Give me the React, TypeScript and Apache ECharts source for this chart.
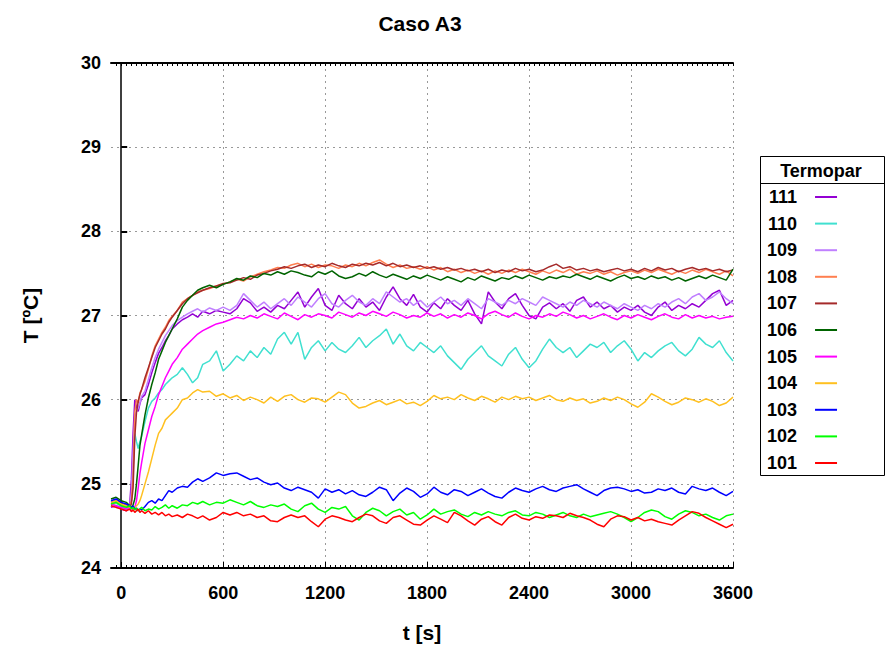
import React, { useEffect, useRef } from "react";
import * as echarts from "echarts";

const times = [
  -60, -30, 0, 30, 50, 60, 70, 80, 90, 100,
  110, 120, 140, 160, 180, 200, 220, 240, 260, 280,
  300, 330, 360, 390, 420, 450, 480, 520, 560, 600,
  640, 680, 720, 760, 800, 840, 880, 920, 960, 1000,
  1040, 1080, 1120, 1160, 1200, 1240, 1280, 1320, 1360, 1400,
  1440, 1480, 1520, 1560, 1600, 1640, 1680, 1720, 1760, 1800,
  1840, 1880, 1920, 1960, 2000, 2040, 2080, 2120, 2160, 2200,
  2240, 2280, 2320, 2360, 2400, 2440, 2480, 2520, 2560, 2600,
  2640, 2680, 2720, 2760, 2800, 2840, 2880, 2920, 2960, 3000,
  3040, 3080, 3120, 3160, 3200, 3240, 3280, 3320, 3360, 3400,
  3440, 3480, 3520, 3560, 3600,
];

const t111 = [
  24.72, 24.74, 24.70, 24.68, 24.75, 25.05, 25.60, 26.00, 25.92, 25.86,
  25.95, 26.02, 26.06, 26.18, 26.32, 26.44, 26.55, 26.62, 26.70, 26.76,
  26.84, 26.90, 26.95, 26.98, 27.02, 26.98, 27.05, 27.02, 27.06, 27.04,
  27.02, 27.08, 27.20, 27.15, 27.05, 27.10, 27.04, 27.12, 27.08, 27.18,
  27.28, 27.10, 27.22, 27.32, 27.12, 27.06, 27.24, 27.14, 27.08, 27.20,
  27.10, 27.16, 27.06, 27.22, 27.34, 27.20, 27.12, 27.25, 27.10, 27.04,
  27.15, 27.08, 27.20, 27.12, 27.06, 27.18, 27.02, 26.90, 27.28, 27.16,
  27.08, 27.20, 27.26, 27.12, 27.00, 26.96, 27.10, 27.15, 27.08, 27.14,
  27.05, 27.18, 27.22, 27.10, 27.16, 27.08, 27.12, 27.04, 27.10, 27.06,
  27.12, 27.04, 27.00, 27.10, 27.16, 27.06, 27.12, 27.08, 27.14, 27.10,
  27.18, 27.26, 27.30, 27.12, 27.18,
];

const t110 = [
  24.75, 24.77, 24.73, 24.71, 24.70, 24.80, 25.20, 25.60, 25.50, 25.42,
  25.50, 25.56, 25.74, 25.90, 25.98, 26.02, 26.08, 26.12, 26.18, 26.22,
  26.26, 26.30, 26.38, 26.30, 26.20, 26.26, 26.42, 26.46, 26.58, 26.34,
  26.42, 26.52, 26.46, 26.58, 26.50, 26.62, 26.54, 26.72, 26.80, 26.66,
  26.80, 26.48, 26.62, 26.70, 26.58, 26.68, 26.60, 26.56, 26.64, 26.74,
  26.62, 26.70, 26.76, 26.84, 26.66, 26.78, 26.64, 26.58, 26.68, 26.62,
  26.56, 26.64, 26.52, 26.44, 26.36, 26.48, 26.56, 26.64, 26.52, 26.46,
  26.40, 26.54, 26.62, 26.48, 26.38, 26.46, 26.60, 26.72, 26.62, 26.56,
  26.62, 26.50, 26.58, 26.66, 26.62, 26.68, 26.56, 26.64, 26.70, 26.60,
  26.46, 26.56, 26.50, 26.58, 26.64, 26.68, 26.58, 26.52, 26.60, 26.74,
  26.66, 26.62, 26.70, 26.56, 26.46,
];

const t109 = [
  24.74, 24.72, 24.71, 24.69, 24.72, 24.90, 25.40, 25.80, 25.86, 25.90,
  25.96, 26.04, 26.10, 26.24, 26.38, 26.50, 26.60, 26.68, 26.76, 26.82,
  26.88, 26.94, 26.98, 27.02, 27.05, 27.08, 27.04, 27.09, 27.06, 27.10,
  27.06, 27.12, 27.26, 27.18, 27.10, 27.16, 27.08, 27.14, 27.20, 27.12,
  27.22, 27.16, 27.10, 27.20, 27.26, 27.14, 27.10, 27.18, 27.24, 27.16,
  27.12, 27.20, 27.14, 27.28, 27.22, 27.16, 27.20, 27.12, 27.18, 27.10,
  27.16, 27.22, 27.14, 27.18, 27.12, 27.20, 27.14, 27.08, 27.20, 27.16,
  27.12, 27.18, 27.14, 27.20, 27.16, 27.12, 27.22, 27.18, 27.14, 27.10,
  27.16, 27.12, 27.18, 27.14, 27.10, 27.16, 27.12, 27.08, 27.14, 27.10,
  27.06, 27.12, 27.08, 27.14, 27.10, 27.16, 27.20, 27.14, 27.22, 27.26,
  27.18, 27.22, 27.28, 27.20, 27.14,
];

const t108 = [
  24.76, 24.78, 24.75, 24.73, 24.74, 24.80, 25.10, 25.85, 26.00, 25.96,
  26.08, 26.12, 26.22, 26.36, 26.52, 26.64, 26.72, 26.80, 26.86, 26.94,
  26.99, 27.06, 27.16, 27.20, 27.24, 27.28, 27.30, 27.32, 27.35, 27.37,
  27.40, 27.43, 27.41, 27.46, 27.49, 27.52, 27.54, 27.57, 27.56, 27.60,
  27.62, 27.58, 27.61, 27.57, 27.60, 27.59, 27.56, 27.60, 27.58, 27.62,
  27.59, 27.63, 27.66, 27.61, 27.57, 27.60, 27.56, 27.58, 27.55, 27.58,
  27.54, 27.57, 27.52, 27.55, 27.51, 27.54, 27.50, 27.53, 27.49, 27.53,
  27.50, 27.54, 27.51, 27.55, 27.52, 27.49, 27.53, 27.50, 27.54, 27.51,
  27.55, 27.49, 27.52, 27.50, 27.53, 27.49, 27.52, 27.48, 27.51, 27.53,
  27.50, 27.54, 27.51, 27.55, 27.52, 27.49, 27.53, 27.50, 27.54, 27.51,
  27.55, 27.52, 27.49, 27.53, 27.47,
];

const t107 = [
  24.78, 24.80, 24.77, 24.74, 24.72, 24.76, 24.95, 25.55, 25.85, 25.98,
  26.06, 26.12, 26.26, 26.38, 26.50, 26.62, 26.70, 26.78, 26.84, 26.92,
  26.98, 27.06, 27.14, 27.20, 27.24, 27.27, 27.30, 27.33, 27.35, 27.38,
  27.39, 27.42, 27.45, 27.43, 27.48, 27.50, 27.53, 27.55, 27.58, 27.56,
  27.59, 27.61, 27.57, 27.60, 27.58, 27.62, 27.59, 27.57, 27.61, 27.59,
  27.62, 27.60, 27.63, 27.59, 27.62, 27.58, 27.60, 27.57, 27.59, 27.56,
  27.58, 27.55, 27.57, 27.54, 27.56, 27.53, 27.55, 27.52, 27.55, 27.51,
  27.54, 27.52, 27.56, 27.53, 27.55, 27.52, 27.54, 27.58, 27.61, 27.56,
  27.58, 27.54, 27.56, 27.53, 27.55, 27.52, 27.54, 27.56, 27.53, 27.55,
  27.52, 27.56, 27.53, 27.57, 27.54, 27.56, 27.52, 27.55, 27.57, 27.54,
  27.56, 27.53, 27.55, 27.52, 27.54,
];

const t106 = [
  24.82, 24.84, 24.80, 24.78, 24.74, 24.72, 24.75, 24.82, 25.00, 25.22,
  25.45, 25.58, 25.82, 26.02, 26.18, 26.32, 26.48, 26.58, 26.68, 26.76,
  26.84, 26.96, 27.10, 27.18, 27.24, 27.30, 27.33, 27.36, 27.33, 27.37,
  27.40, 27.44, 27.42, 27.47, 27.45, 27.50, 27.48, 27.52, 27.49, 27.53,
  27.51, 27.48, 27.46, 27.52, 27.49, 27.53, 27.47, 27.44, 27.46, 27.50,
  27.47, 27.52, 27.48, 27.45, 27.49, 27.46, 27.43, 27.47, 27.44, 27.48,
  27.45, 27.42, 27.46, 27.43, 27.40, 27.45, 27.42, 27.47, 27.44, 27.41,
  27.45, 27.43, 27.47, 27.44, 27.48, 27.45, 27.42, 27.46, 27.44, 27.47,
  27.45, 27.49, 27.46, 27.43, 27.47, 27.44, 27.41, 27.45, 27.48, 27.44,
  27.46, 27.43, 27.47, 27.44, 27.46, 27.42, 27.45, 27.41, 27.44, 27.47,
  27.44, 27.48, 27.45, 27.42, 27.55,
];

const t105 = [
  24.76, 24.74, 24.72, 24.70, 24.70, 24.68, 24.70, 24.72, 24.80, 24.95,
  25.12, 25.25, 25.48, 25.64, 25.80, 25.92, 26.06, 26.16, 26.26, 26.34,
  26.42, 26.50, 26.60, 26.66, 26.72, 26.78, 26.82, 26.86, 26.90, 26.92,
  26.95, 26.98, 26.96, 27.00, 26.97, 27.02, 26.99, 26.96, 27.03, 26.99,
  26.95, 27.01, 26.98, 27.02, 27.00, 26.97, 27.04, 27.01, 26.98, 27.03,
  27.00, 27.05, 27.02, 26.99, 27.04, 27.01, 26.97, 27.00, 26.98, 27.03,
  26.99, 27.02, 26.97, 27.01, 26.98, 27.03, 27.00, 26.96, 27.02, 27.05,
  27.01, 26.98, 27.03, 26.99, 26.96, 27.00, 26.98, 27.02, 26.99, 27.04,
  27.01, 26.97, 27.00, 26.96, 26.99, 27.02, 26.98, 26.95, 27.00, 26.97,
  27.01, 26.98, 26.95, 26.99, 27.02, 26.98, 26.96, 27.01, 26.97, 27.00,
  26.97, 26.99, 26.96, 26.98, 26.99,
];

const t104 = [
  24.78, 24.80, 24.76, 24.74, 24.72, 24.74, 24.70, 24.72, 24.74, 24.76,
  24.80, 24.86, 25.00, 25.14, 25.30, 25.46, 25.60, 25.66, 25.76, 25.80,
  25.84, 25.90, 26.00, 26.02, 26.08, 26.12, 26.09, 26.10, 26.04, 26.07,
  26.02, 26.05, 25.99, 26.03, 26.00, 25.96, 26.03, 25.98, 26.04, 26.06,
  26.00, 25.97, 26.02, 26.01, 25.97, 26.03, 26.09, 26.06, 25.96, 25.90,
  25.92, 25.96, 25.99, 25.94, 25.97, 26.00, 25.95, 25.97, 25.93, 25.98,
  26.05, 26.01, 26.03, 26.00, 26.06, 26.02, 25.99, 26.04, 26.01, 25.97,
  26.03, 26.00, 26.04, 26.01, 26.03, 25.99, 26.02, 26.05, 26.00, 25.98,
  26.02, 25.99, 26.01, 25.96, 25.98, 26.02, 25.99, 26.03, 26.00, 25.95,
  25.91, 25.97, 26.07, 26.03, 25.98, 25.94, 25.97, 26.02, 26.00, 25.97,
  26.01, 25.98, 25.93, 25.96, 26.03,
];

const t103 = [
  24.80, 24.82, 24.78, 24.76, 24.74, 24.72, 24.74, 24.70, 24.71, 24.68,
  24.70, 24.69, 24.73, 24.78, 24.80, 24.77, 24.82, 24.80, 24.86, 24.92,
  24.90, 24.95, 24.97, 24.96, 25.02, 25.06, 25.03, 25.07, 25.13, 25.10,
  25.12, 25.13, 25.09, 25.05, 25.07, 25.02, 24.99, 25.01, 24.95, 24.92,
  24.96, 24.93, 24.90, 24.83, 24.94, 24.90, 24.93, 24.88, 24.92, 24.87,
  24.85, 24.90, 24.96, 24.93, 24.80, 24.89, 24.95, 24.91, 24.84, 24.88,
  24.96, 24.90, 24.87, 24.93, 24.91, 24.86, 24.90, 24.94, 24.89, 24.85,
  24.83, 24.90, 24.95, 24.92, 24.90, 24.94, 24.97, 24.93, 24.91, 24.95,
  24.97, 24.99, 24.94, 24.90, 24.86, 24.92, 24.95, 24.96, 24.94, 24.91,
  24.93, 24.89, 24.90, 24.94, 24.92, 24.95, 24.90, 24.88, 24.97, 24.94,
  24.92, 24.95, 24.90, 24.86, 24.91,
];

const t102 = [
  24.76, 24.78, 24.74, 24.72, 24.74, 24.70, 24.72, 24.69, 24.71, 24.68,
  24.70, 24.72, 24.68, 24.70, 24.69, 24.73, 24.70, 24.72, 24.75, 24.71,
  24.74, 24.71, 24.75, 24.74, 24.78, 24.76, 24.79, 24.75, 24.78, 24.77,
  24.81, 24.78, 24.75, 24.79, 24.74, 24.72, 24.75, 24.73, 24.76, 24.70,
  24.67, 24.74, 24.77, 24.70, 24.66, 24.72, 24.70, 24.73, 24.62, 24.57,
  24.66, 24.71, 24.68, 24.62, 24.67, 24.70, 24.63, 24.66, 24.58, 24.63,
  24.70, 24.64, 24.67, 24.69, 24.64, 24.61, 24.66, 24.63, 24.67, 24.64,
  24.62, 24.66, 24.68, 24.63, 24.62, 24.66, 24.64, 24.60, 24.63, 24.66,
  24.62, 24.60, 24.64, 24.61, 24.63, 24.65, 24.67, 24.64, 24.60, 24.55,
  24.60, 24.66, 24.69, 24.67, 24.61, 24.58, 24.64, 24.68, 24.66, 24.62,
  24.64, 24.60, 24.57, 24.62, 24.64,
];

const t101 = [
  24.74, 24.72, 24.70, 24.68, 24.70, 24.67, 24.69, 24.66, 24.68, 24.70,
  24.66, 24.68, 24.65, 24.68, 24.64, 24.66, 24.63, 24.66, 24.62, 24.64,
  24.61, 24.63, 24.60, 24.64, 24.62, 24.59, 24.62, 24.57, 24.60, 24.66,
  24.63, 24.66, 24.62, 24.64, 24.60, 24.62, 24.56, 24.55, 24.60, 24.63,
  24.60, 24.62, 24.55, 24.49, 24.58, 24.62, 24.60, 24.57, 24.55, 24.60,
  24.64, 24.62, 24.56, 24.53, 24.60, 24.62, 24.57, 24.52, 24.51, 24.57,
  24.62, 24.58, 24.54, 24.66, 24.62, 24.56, 24.51, 24.58, 24.61, 24.55,
  24.51, 24.60, 24.64, 24.59, 24.57, 24.61, 24.59, 24.63, 24.62, 24.60,
  24.65, 24.62, 24.60, 24.57, 24.52, 24.49, 24.58, 24.62, 24.61, 24.57,
  24.60, 24.56, 24.58, 24.55, 24.53, 24.51, 24.57, 24.62, 24.67, 24.65,
  24.60, 24.56, 24.52, 24.48, 24.52,
];

const seriesNames = ["111", "110", "109", "108", "107", "106", "105", "104", "103", "102", "101"];
const seriesColors = [
  "#9400d3", "#40e0d0", "#c080ff", "#ff7f50", "#a52a2a", "#006400",
  "#ff00ff", "#ffc020", "#0000ff", "#00ff00", "#ff0000",
];
const xMajorTicks = [0, 600, 1200, 1800, 2400, 3000, 3600];

const FONT = "'Liberation Sans', Arial, Helvetica, sans-serif";

export default function App() {
  const ref = useRef<HTMLDivElement>(null);

  useEffect(() => {
    if (!ref.current) return;
    const chart = echarts.init(ref.current, null, { renderer: "svg" });
    const values = [t111, t110, t109, t108, t107, t106, t105, t104, t103, t102, t101];
    const minorTicks: number[] = [];
    for (let v = -30; v <= 3600; v += 30) minorTicks.push(v);

    chart.setOption({
      animation: false,
      backgroundColor: "#ffffff",
      textStyle: { fontFamily: FONT },
      title: {
        text: "Caso A3",
        left: 415,
        top: 8,
        textAlign: "center",
        textStyle: { fontSize: 21, fontWeight: "bold", color: "#000", fontFamily: FONT },
      },
      grid: { left: 111, top: 63, width: 622, height: 505, containLabel: false },
      xAxis: [
        {
          type: "value",
          min: -60,
          max: 3600,
          position: "bottom",
          name: "t [s]",
          nameLocation: "middle",
          nameGap: 54,
          nameTextStyle: { fontSize: 21, fontWeight: "bold", color: "#000", fontFamily: FONT },
          axisLine: { show: true, lineStyle: { color: "#000", width: 2 } },
          axisTick: { show: true, inside: true, length: 6, customValues: xMajorTicks, lineStyle: { color: "#000", width: 1 } },
          axisLabel: {
            show: true,
            customValues: xMajorTicks,
            formatter: (v: number) => String(v),
            fontSize: 18,
            fontWeight: "bold",
            color: "#000",
            margin: 16,
            fontFamily: FONT,
          },
          splitLine: { show: true, lineStyle: { color: "#999", width: 1, type: [2, 4] } },
        },
        {
          type: "value",
          min: -60,
          max: 3600,
          position: "bottom",
          axisLine: { show: false },
          axisTick: { show: true, inside: true, length: 3, customValues: minorTicks, lineStyle: { color: "#000", width: 1 } },
          axisLabel: { show: false },
          splitLine: { show: false },
        },
        {
          type: "value",
          min: -60,
          max: 3600,
          position: "top",
          axisLine: { show: true, lineStyle: { color: "#000", width: 2 } },
          axisTick: { show: true, inside: true, length: 3, customValues: minorTicks, lineStyle: { color: "#000", width: 1 } },
          axisLabel: { show: false },
          splitLine: { show: false },
        },
      ],
      yAxis: [
        {
          type: "value",
          min: 24,
          max: 30,
          interval: 1,
          position: "left",
          name: "T [ºC]",
          nameLocation: "middle",
          nameGap: 70,
          nameTextStyle: { fontSize: 21, fontWeight: "bold", color: "#000", fontFamily: FONT },
          axisLine: { show: true, lineStyle: { color: "#000", width: 2 } },
          axisTick: { show: true, inside: true, length: 6, lineStyle: { color: "#000", width: 2 } },
          axisLabel: { fontSize: 18, fontWeight: "bold", color: "#000", margin: 10, fontFamily: FONT },
          splitLine: { show: true, lineStyle: { color: "#999", width: 1, type: [2, 4] } },
        },
        {
          type: "value",
          min: 24,
          max: 30,
          interval: 1,
          position: "right",
          axisLine: { show: true, lineStyle: { color: "#555", width: 1.5 } },
          axisTick: { show: false },
          axisLabel: { show: false },
          splitLine: { show: false },
        },
      ],
      legend: {
        orient: "vertical",
        left: 767,
        top: 188,
        padding: 0,
        itemGap: 8.6,
        itemWidth: 22,
        itemHeight: 2,
        icon: "rect",
        align: "right",
        selectedMode: false,
        data: seriesNames,
        textStyle: { fontSize: 18, fontWeight: "bold", color: "#000", fontFamily: FONT, padding: [0, 13, 0, 0] },
      },
      graphic: [
        {
          type: "rect",
          shape: { x: 760.5, y: 156.5, width: 124, height: 319 },
          style: { fill: "none", stroke: "#000", lineWidth: 1 },
          silent: true,
        },
        {
          type: "line",
          shape: { x1: 760.5, y1: 183.5, x2: 884.5, y2: 183.5 },
          style: { stroke: "#000", lineWidth: 1 },
          silent: true,
        },
        {
          type: "text",
          x: 821,
          y: 171,
          style: {
            text: "Termopar",
            fontSize: 18,
            fontWeight: "bold",
            fontFamily: FONT,
            fill: "#000",
            align: "center",
            verticalAlign: "middle",
          },
          silent: true,
        },
      ],
      series: values.map((vals, i) => ({
        type: "line",
        name: seriesNames[i],
        xAxisIndex: 0,
        yAxisIndex: 0,
        data: times.map((t, j) => [t, vals[j]]),
        showSymbol: false,
        symbol: "none",
        lineStyle: { width: 1.5, color: seriesColors[i] },
        itemStyle: { color: seriesColors[i] },
      })),
    });

    return () => chart.dispose();
  }, []);

  return (
    <div
      ref={ref}
      style={{ position: "fixed", left: 0, top: 0, width: 885, height: 648 }}
    />
  );
}
